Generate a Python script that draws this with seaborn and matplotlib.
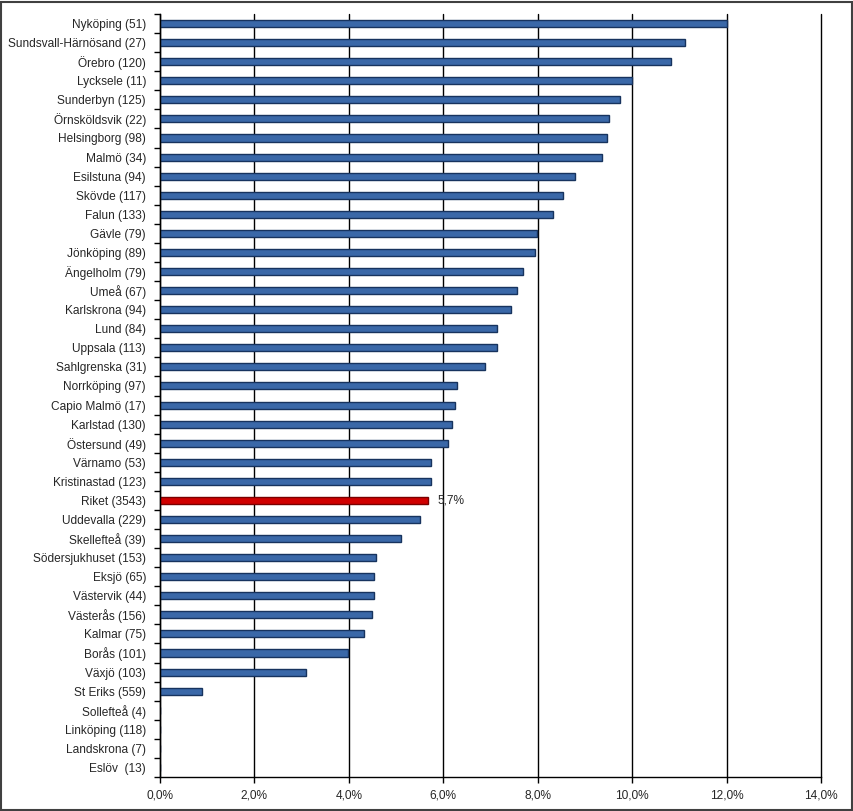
import matplotlib
matplotlib.use("Agg")
import matplotlib.pyplot as plt
import seaborn as sns
import pandas as pd
from matplotlib.patches import Rectangle
from matplotlib.ticker import FuncFormatter

categories = [
    "Nyköping (51)", "Sundsvall-Härnösand (27)", "Örebro (120)", "Lycksele (11)",
    "Sunderbyn (125)", "Örnsköldsvik (22)", "Helsingborg (98)", "Malmö (34)",
    "Esilstuna (94)", "Skövde (117)", "Falun (133)", "Gävle (79)", "Jönköping (89)",
    "Ängelholm (79)", "Umeå (67)", "Karlskrona (94)", "Lund (84)", "Uppsala (113)",
    "Sahlgrenska (31)", "Norrköping (97)", "Capio Malmö (17)", "Karlstad (130)",
    "Östersund (49)", "Värnamo (53)", "Kristinastad (123)", "Riket (3543)",
    "Uddevalla (229)", "Skellefteå (39)", "Södersjukhuset (153)", "Eksjö (65)",
    "Västervik (44)", "Västerås (156)", "Kalmar (75)", "Borås (101)", "Växjö (103)",
    "St Eriks (559)", "Sollefteå (4)", "Linköping (118)", "Landskrona (7)", "Eslöv  (13)",
]
values = [
    12.0, 11.11, 10.83, 10.0, 9.75, 9.52, 9.47, 9.37, 8.78, 8.54, 8.33, 7.98, 7.95,
    7.68, 7.57, 7.44, 7.13, 7.13, 6.89, 6.30, 6.24, 6.19, 6.11, 5.75, 5.73, 5.67,
    5.50, 5.11, 4.58, 4.54, 4.54, 4.50, 4.33, 3.99, 3.10, 0.88, 0.0, 0.0, 0.0, 0.0,
]
highlight = "Riket (3543)"
highlight_label = "5,7%"
x_ticks = [0, 2, 4, 6, 8, 10, 12, 14]

df = pd.DataFrame({"cat": categories, "val": values})
blue, red = "#3A68A8", "#D00000"
palette = {c: (red if c == highlight else blue) for c in categories}

sns.set_style("white")
plt.rcParams["font.family"] = ["Liberation Sans", "DejaVu Sans"]
fs = 8.6

fig = plt.figure(figsize=(8.54, 8.11), dpi=100)
ax = fig.add_axes([160 / 854, 1 - 777 / 811, (821 - 160) / 854, (777 - 14) / 811])

sns.barplot(data=df, x="val", y="cat", hue="cat", palette=palette, orient="h",
            width=0.37, legend=False, ax=ax, saturation=1, zorder=3)
for p, c in zip(ax.patches, categories):
    p.set_edgecolor("#7a0000" if c == highlight else "#17335E")
    p.set_linewidth(1.0)

ax.set_xlim(0, 14)
ax.set_ylim(len(categories) - 0.5, -0.5)
ax.set_xticks(x_ticks)
ax.xaxis.set_major_formatter(FuncFormatter(lambda v, _: f"{v:.1f}%".replace(".", ",")))
ax.grid(axis="x", color="black", linewidth=1.0, zorder=1)
ax.grid(axis="y", visible=False)
for gl in ax.get_xgridlines():
    gl.set_clip_on(False)
ax.set_axisbelow(True)
for s in ["top", "right"]:
    ax.spines[s].set_visible(False)
for s in ["left", "bottom"]:
    ax.spines[s].set_color("black")
    ax.spines[s].set_linewidth(1.0)
    ax.spines[s].set_zorder(4)

ax.set_yticks([i + 0.5 for i in range(-1, len(categories))], minor=True)
ax.tick_params(axis="y", which="minor", length=4, width=1, color="black", left=True)
ax.tick_params(axis="y", which="major", length=0, pad=10, labelsize=fs)
ax.tick_params(axis="x", which="major", length=4, width=1, color="black", bottom=True,
               pad=5, labelsize=fs)
ax.set_xlabel("")
ax.set_ylabel("")

i = categories.index(highlight)
ax.text(values[i] + 0.2, i, highlight_label, va="center", ha="left", fontsize=fs)

fig.patches.append(Rectangle((0.001, 0.001), 0.997, 0.997, transform=fig.transFigure,
                             fill=False, edgecolor="#404040", linewidth=1.5))
fig.savefig("out.png", dpi=100)
